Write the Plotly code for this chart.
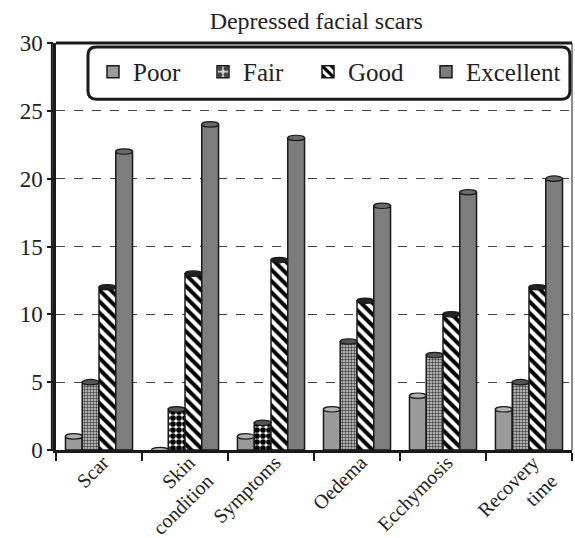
import plotly.graph_objects as go

categories = ["Scar", "Skin<br>condition", "Symptoms", "Oedema", "Ecchymosis", "Recovery<br>time"]
poor = [1, 0, 1, 3, 4, 3]
fair = [5, 3, 2, 8, 7, 5]
good = [12, 13, 14, 11, 10, 12]
excellent = [22, 24, 23, 18, 19, 20]
y_ticks = [0, 5, 10, 15, 20, 25, 30]

FONT = "Liberation Serif, Times New Roman, serif"
EDGE = "#1a1a1a"
BARGAP = 0.22

fig = go.Figure()
fig.add_trace(go.Bar(name="Poor", x=categories, y=poor, legendwidth=65,
                     marker=dict(color="#9a9a9a", line=dict(color=EDGE, width=1.5))))
fig.add_trace(go.Bar(name="Fair", x=categories, y=fair, legendwidth=60,
                     marker=dict(color="#ffffff", line=dict(color=EDGE, width=1.5),
                                 pattern=dict(shape=".",
                                              fgcolor=["#444444", "#000000", "#000000", "#444444", "#444444", "#444444"],
                                              bgcolor=["#d0d0d0", "#ffffff", "#ffffff", "#d0d0d0", "#d0d0d0", "#d0d0d0"],
                                              size=[3, 6, 6, 3, 3, 3], solidity=[0.5, 0.7, 0.7, 0.5, 0.5, 0.5],
                                              fillmode="replace"))))
fig.add_trace(go.Bar(name="Good", x=categories, y=good, legendwidth=73,
                     marker=dict(color="#ffffff", line=dict(color=EDGE, width=1.5),
                                 pattern=dict(shape="\\", fgcolor="#000000", bgcolor="#ffffff",
                                              size=8, solidity=0.5, fillmode="replace"))))
fig.add_trace(go.Bar(name="Excellent", x=categories, y=excellent, legendwidth=100,
                     marker=dict(color="#7d7d7d", line=dict(color=EDGE, width=1.5))))

# cylinder caps on top of each bar, placed with the axis scales (category index + group offset)
series = [poor, fair, good, excellent]
cap_fill = ["#b0b0b0", "#555555", "#222222", "#6a6a6a"]
n = len(series)
bw = (1 - BARGAP) / n
cap_shapes = []
for j, vals in enumerate(series):
    off = -(1 - BARGAP) / 2 + bw * (j + 0.5)
    for i, v in enumerate(vals):
        cap_shapes.append(dict(type="circle", xref="x", yref="y", layer="above",
                               x0=i + off - bw / 2, x1=i + off + bw / 2, y0=v - 0.2, y1=v + 0.2,
                               fillcolor=cap_fill[j], line=dict(color=EDGE, width=1.2)))

# rounded legend box (paper coords)
x0, x1, y0, y1 = 0.062, 0.996, 0.862, 0.990
rx, ry = 0.016, 0.02
path = (f"M {x0+rx},{y1} L {x1-rx},{y1} Q {x1},{y1} {x1},{y1-ry} "
        f"L {x1},{y0+ry} Q {x1},{y0} {x1-rx},{y0} L {x0+rx},{y0} "
        f"Q {x0},{y0} {x0},{y0+ry} L {x0},{y1-ry} Q {x0},{y1} {x0+rx},{y1} Z")

fig.update_layout(
    width=575, height=538,
    margin=dict(l=56, r=3, t=43, b=88, autoexpand=False),
    paper_bgcolor="white", plot_bgcolor="white",
    font=dict(family=FONT, color="#222222"),
    title=dict(text="Depressed facial scars", x=0.55, xanchor="center", y=0.961, yanchor="middle",
               font=dict(family=FONT, size=24, color="#222222")),
    barmode="group", bargap=BARGAP, bargroupgap=0.0,
    showlegend=True,
    legend=dict(orientation="h", x=0.0717, y=0.929, xanchor="left", yanchor="middle",
                bgcolor="rgba(0,0,0,0)", font=dict(family=FONT, size=25, color="#222222"),
                itemwidth=30, traceorder="normal"),
    shapes=cap_shapes + [
        dict(type="path", path=path, xref="paper", yref="paper",
             line=dict(color=EDGE, width=3), fillcolor="rgba(255,255,255,1)", layer="above"),
        dict(type="line", xref="paper", yref="paper", x0=0, x1=1, y0=1, y1=1,
             line=dict(color=EDGE, width=3)),
        dict(type="line", xref="paper", yref="paper", x0=1, x1=1, y0=0, y1=1,
             line=dict(color=EDGE, width=1)),
        dict(type="line", xref="paper", yref="paper", x0=-0.008, x1=-0.008, y0=0, y1=1.0,
             line=dict(color=EDGE, width=2)),
    ],
)
fig.update_yaxes(range=[0, 30], tickvals=y_ticks, ticks="outside", ticklen=6, tickwidth=2,
                 tickcolor=EDGE, showline=True, linewidth=2.5, linecolor=EDGE,
                 showgrid=True, gridcolor="#444444", griddash="dash", gridwidth=1,
                 zeroline=False, automargin=False, tickfont=dict(family=FONT, size=23, color="#222222"))
fig.update_xaxes(range=[-0.5, len(categories) - 0.5],
                 tickson="boundaries", ticks="outside", ticklen=8, tickwidth=2, tickcolor=EDGE,
                 showline=True, linewidth=3, linecolor=EDGE, tickangle=-45, ticklabelshift=4,
                 ticklabelstandoff=-10,
                 automargin=False, tickfont=dict(family=FONT, size=20, color="#222222"))

fig.write_html("out.html", config={"displayModeBar": False},
               post_script="document.body.style.margin='0';document.body.style.overflow='hidden';")
